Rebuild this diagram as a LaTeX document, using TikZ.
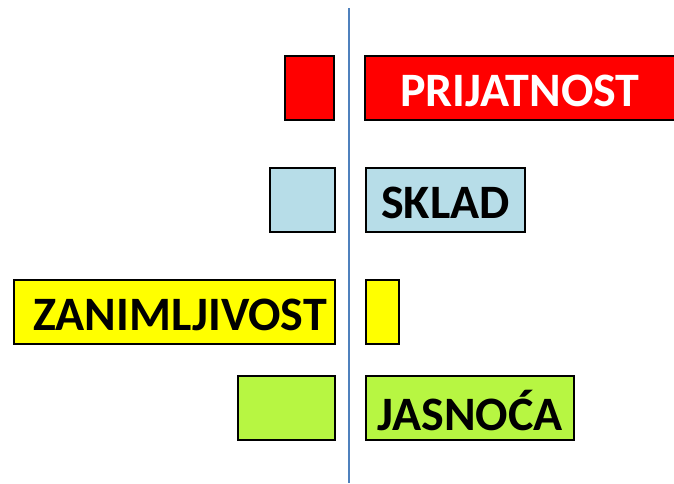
\documentclass[tikz,border=0pt]{standalone}
\usepackage{fontspec}
\setmainfont{Carlito}
\definecolor{axisblue}{RGB}{79,129,189}
\definecolor{bred}{RGB}{255,0,0}
\definecolor{bblue}{RGB}{183,221,232}
\definecolor{byellow}{RGB}{255,255,0}
\definecolor{bgreen}{RGB}{183,246,66}
\begin{document}
\begin{tikzpicture}[x=1pt,y=-1pt,
  bar/.style={draw=black,line width=2pt,inner sep=0pt,minimum height=64pt,font=\fontsize{48}{48}\selectfont\bfseries},
  lbl/.style={font=\fontsize{48}{48}\selectfont\bfseries,inner sep=0pt},
]
\useasboundingbox (0,0) rectangle (674,483);
\coordinate (top) at (349,8);
\coordinate (bot) at (349,483);
\draw[axisblue,line width=2.8pt] (top) -- (bot);
% row 1
\node[bar,fill=bred,minimum width=49pt] (l1) at (309.5,88) {};
\node[bar,fill=bred,minimum width=320pt] (r1) at (525,88) {};
\node[lbl,text=white] (t1) at (520,91) {PRIJATNOST};
% row 2
\node[bar,fill=bblue,minimum width=65pt] (l2) at (302,199.5) {};
\node[bar,fill=bblue,minimum width=159pt] (r2) at (445.5,199.5) {};
\node[lbl] (t2) at (445.5,202.5) {SKLAD};
% row 3
\node[bar,fill=byellow,minimum width=321pt] (l3) at (174,311.5) {};
\node[lbl] (t3) at (180,314.5) {ZANIMLJIVOST};
\node[bar,fill=byellow,minimum width=33pt] (r3) at (382,311.5) {};
% row 4
\node[bar,fill=bgreen,minimum width=97pt] (l4) at (286,407.5) {};
\node[bar,fill=bgreen,minimum width=208pt] (r4) at (469.5,407.5) {};
\node[lbl] (t4) at (470,410.5) {JASNOĆA};
\end{tikzpicture}
\end{document}
